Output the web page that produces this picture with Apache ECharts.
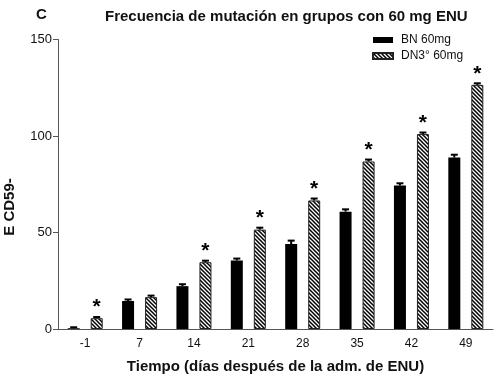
<!DOCTYPE html>
<html>
<head>
<meta charset="utf-8">
<script src="https://cdn.jsdelivr.net/npm/echarts@6/dist/echarts.min.js"></script>
<style>html,body{margin:0;padding:0;background:#fff;}#c{width:498px;height:379px;}</style>
</head>
<body>
<div id="c"></div>
<script>
const categories = ['-1', '7', '14', '21', '28', '35', '42', '49'];
const bn60 = [0.4, 14.5, 22.2, 35.5, 44.0, 60.8, 74.3, 88.8];
const bn60Err = [0.5, 0.8, 1.0, 1.0, 1.8, 1.2, 1.2, 1.5];
const dn60 = [5.6, 16.5, 34.6, 51.5, 66.6, 86.8, 101.0, 126.5];
const dn60Err = [0.6, 0.8, 0.8, 1.0, 1.0, 1.0, 0.8, 0.8];
const dnSignificant = [true, false, true, true, true, true, true, true];
const yTicks = [0, 50, 100, 150];

const FONT = 'Arial, "Liberation Sans", Helvetica, sans-serif';
const BAR_W = 12, BAR_GAP_PX = 11;

function hatch() {
  const c = document.createElement('canvas');
  c.width = 4; c.height = 4;
  const g = c.getContext('2d');
  g.fillStyle = '#fff'; g.fillRect(0, 0, 4, 4);
  g.strokeStyle = '#000'; g.lineWidth = 1.5;
  g.beginPath();
  g.moveTo(-1, -1); g.lineTo(5, 5);
  g.moveTo(-1, 3); g.lineTo(1, 5);
  g.moveTo(3, -1); g.lineTo(5, 1);
  g.stroke();
  return c;
}

const errData = [];
bn60.forEach((v, i) => errData.push([i, v, bn60Err[i], 0, 0]));
dn60.forEach((v, i) => errData.push([i, v, dn60Err[i], 1, dnSignificant[i] ? 1 : 0]));

const chart = echarts.init(document.getElementById('c'), null, {renderer: 'canvas'});
chart.setOption({
  animation: false,
  textStyle: {fontFamily: FONT},
  title: [
    {text: 'C', left: 31, top: 2, textStyle: {fontSize: 15, fontWeight: 'bold', color: '#111', fontFamily: FONT}},
    {text: 'Frecuencia de mutación en grupos con 60 mg ENU', left: 100, top: 4,
     textStyle: {fontSize: 15, fontWeight: 'bold', color: '#111', fontFamily: FONT}}
  ],
  legend: {
    orient: 'vertical', left: 367, top: 29, itemWidth: 20, itemHeight: 6, itemGap: 4,
    textStyle: {fontSize: 12, color: '#111', fontFamily: FONT, padding: [0, 0, 0, 3]},
    data: [
      {name: 'BN 60mg', icon: 'rect'},
      {name: 'DN3° 60mg', icon: 'rect'}
    ]
  },
  grid: {left: 58, right: 5, top: 39.5, bottom: 49},
  xAxis: {
    type: 'category', data: categories,
    axisLine: {lineStyle: {color: '#555', width: 1}},
    axisTick: {alignWithLabel: true, length: 4, lineStyle: {color: '#555'}},
    axisLabel: {fontSize: 12, color: '#111', margin: 9, fontFamily: FONT},
    name: 'Tiempo (días después de la adm. de ENU)', nameLocation: 'middle', nameGap: 30,
    nameTextStyle: {fontSize: 15, fontWeight: 'bold', color: '#111', fontFamily: FONT}
  },
  yAxis: {
    type: 'value', min: yTicks[0], max: yTicks[yTicks.length - 1], interval: 50,
    axisLine: {show: true, lineStyle: {color: '#555', width: 1}},
    axisTick: {show: true, length: 5, lineStyle: {color: '#555'}},
    splitLine: {show: false},
    axisLabel: {fontSize: 13, color: '#111', margin: 6, fontFamily: FONT}
  },
  graphic: [{
    type: 'text', x: 10, y: 207, rotation: Math.PI / 2,
    style: {text: 'E CD59-', font: 'bold 15px ' + FONT, fill: '#111', align: 'center', verticalAlign: 'middle'}
  }],
  series: [
    {name: 'BN 60mg', type: 'bar', data: bn60, barWidth: BAR_W, barGap: (BAR_GAP_PX / BAR_W * 100) + '%',
     itemStyle: {color: '#000'}},
    {name: 'DN3° 60mg', type: 'bar', data: dn60, barWidth: BAR_W,
     itemStyle: {color: {image: hatch(), repeat: 'repeat'}, borderColor: '#222', borderWidth: 1}},
    {type: 'custom', data: errData, z: 5, silent: true,
     renderItem: function (params, api) {
       const idx = api.value(0), v = api.value(1), e = api.value(2), s = api.value(3), sig = api.value(4);
       const off = (s === 0 ? -1 : 1) * (BAR_W + BAR_GAP_PX) / 2;
       const p0 = api.coord([idx, v]);
       const p1 = api.coord([idx, v + e]);
       const x = p0[0] + off;
       const children = [
         {type: 'line', shape: {x1: x, y1: p0[1], x2: x, y2: p1[1]}, style: {stroke: '#000', lineWidth: 2}},
         {type: 'line', shape: {x1: x - 3.5, y1: p1[1], x2: x + 3.5, y2: p1[1]}, style: {stroke: '#000', lineWidth: 2}}
       ];
       if (sig) {
         children.push({type: 'text', x: x, y: p1[1] + 1,
           style: {text: '*', font: 'bold 21px ' + FONT, fill: '#000', align: 'center', verticalAlign: 'bottom'}});
       }
       return {type: 'group', children: children};
     }}
  ]
});
</script>
</body>
</html>
